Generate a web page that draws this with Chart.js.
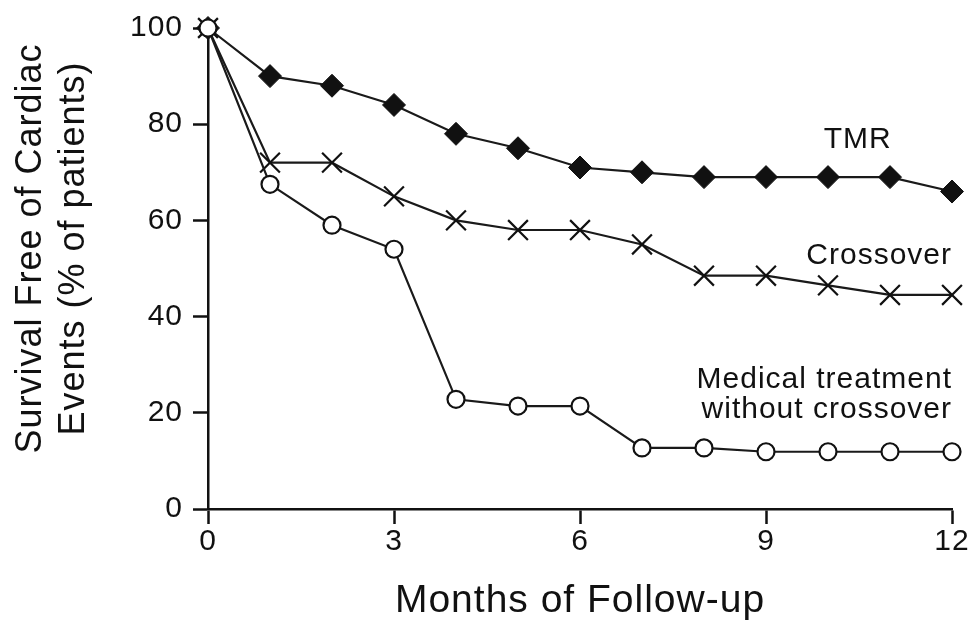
<!DOCTYPE html>
<html>
<head>
<meta charset="utf-8">
<script src="https://cdn.jsdelivr.net/npm/chart.js@4.4.1/dist/chart.umd.min.js"></script>
<style>
  html, body { margin: 0; padding: 0; background: #ffffff; }
  #wrap { width: 971px; height: 625px; }
</style>
</head>
<body>
<div id="wrap"><canvas id="c" width="971" height="625"></canvas></div>
<script>
// ---- data ----
const months = [0, 1, 2, 3, 4, 5, 6, 7, 8, 9, 10, 11, 12];
const tmr = [100, 90, 88, 84, 78, 75, 71, 70, 69, 69, 69, 69, 66];
const crossover = [100, 72, 72, 65, 60, 58, 58, 55, 48.5, 48.5, 46.5, 44.5, 44.5];
const medical = [100, 67.5, 59, 54, 22.8, 21.4, 21.4, 12.7, 12.7, 11.9, 11.9, 11.9, 11.9];
const seriesNames = ['TMR', 'Crossover', 'Medical treatment without crossover'];
const xTicks = [0, 3, 6, 9, 12];
const yTicks = [0, 20, 40, 60, 80, 100];
const xTitle = 'Months of Follow-up';
const yTitleLines = ['Survival Free of Cardiac', 'Events (% of patients)'];

// series labels placed in data coordinates
const seriesLabels = [
  { lines: ['TMR'], x: 10.48, y: 76.8, align: 'center' },
  { lines: ['Crossover'], x: 12, y: 52.6, align: 'right' },
  { lines: ['Medical treatment', 'without crossover'], x: 12, y: 26.9, align: 'right' }
];

const FONT = '"Liberation Sans", Arial, Helvetica, sans-serif';
const INK = '#111111';

const pts = arr => months.map((m, i) => ({ x: m, y: arr[i] }));

const spacingPlugin = {
  id: 'spacing',
  beforeUpdate(chart) { chart.ctx.letterSpacing = '1px'; },
  beforeDraw(chart) { chart.ctx.letterSpacing = '1px'; }
};

const textPlugin = {
  id: 'texts',
  afterDraw(chart) {
    const ctx = chart.ctx;
    const xs = chart.scales.x, ys = chart.scales.y;
    ctx.save();
    ctx.letterSpacing = '1px';
    ctx.fillStyle = INK;
    // series labels
    ctx.font = '30px ' + FONT;
    ctx.textBaseline = 'middle';
    seriesLabels.forEach(l => {
      const px = xs.getPixelForValue(l.x);
      const py = ys.getPixelForValue(l.y);
      ctx.textAlign = l.align;
      l.lines.forEach((t, i) => ctx.fillText(t, px, py + i * 30));
    });
    // y axis title (two lines, rotated)
    ctx.font = '36px ' + FONT;
    ctx.textAlign = 'center';
    const cy = (chart.chartArea.top + chart.chartArea.bottom) / 2 - 20;
    ctx.translate(0, cy);
    ctx.rotate(-Math.PI / 2);
    yTitleLines.forEach((t, i) => ctx.fillText(t, 0, 31 + i * 43));
    ctx.restore();
  }
};

const lineColor = '#1a1a1a';

new Chart(document.getElementById('c'), {
  type: 'line',
  data: {
    datasets: [
      {
        label: seriesNames[2], data: pts(medical),
        borderColor: lineColor, borderWidth: 2.2, tension: 0,
        pointStyle: 'circle', pointRadius: 8.5, pointBackgroundColor: '#ffffff',
        pointBorderColor: INK, pointBorderWidth: 2.2, clip: false
      },
      {
        label: seriesNames[1], data: pts(crossover),
        borderColor: lineColor, borderWidth: 2.2, tension: 0,
        pointStyle: 'crossRot', pointRadius: 14,
        pointBorderColor: INK, pointBorderWidth: 2.2, clip: false
      },
      {
        label: seriesNames[0], data: pts(tmr),
        borderColor: lineColor, borderWidth: 2.2, tension: 0,
        pointStyle: 'rectRot', pointRadius: 11.5, pointBackgroundColor: INK,
        pointBorderColor: INK, pointBorderWidth: 1, clip: false
      }
    ]
  },
  options: {
    responsive: false,
    animation: false,
    layout: { padding: { left: 0, top: 22, right: 19, bottom: 0 } },
    plugins: { legend: { display: false }, tooltip: { enabled: false } },
    scales: {
      x: {
        type: 'linear', min: 0, max: 12,
        afterFit: s => { s.height = 116; },
        afterBuildTicks: s => { s.ticks = xTicks.map(v => ({ value: v })); },
        border: { display: true, color: INK, width: 2.5 },
        grid: { display: true, drawOnChartArea: false, drawTicks: true, tickLength: 15, tickWidth: 2.5, tickColor: INK },
        ticks: { color: INK, font: { family: FONT, size: 30 }, padding: 0, maxRotation: 0 },
        title: { display: true, text: xTitle, color: INK, font: { family: FONT, size: 39 }, padding: { top: 0, bottom: 0 } }
      },
      y: {
        type: 'linear', min: 0, max: 100,
        afterFit: s => { s.width = 208; },
        afterBuildTicks: s => { s.ticks = yTicks.map(v => ({ value: v })); },
        border: { display: true, color: INK, width: 2.5 },
        grid: { display: true, drawOnChartArea: false, drawTicks: true, tickLength: 15, tickWidth: 2.5, tickColor: INK },
        ticks: { color: INK, font: { family: FONT, size: 30 }, padding: 10 },
        title: { display: false }
      }
    }
  },
  plugins: [spacingPlugin, textPlugin]
});
</script>
</body>
</html>
